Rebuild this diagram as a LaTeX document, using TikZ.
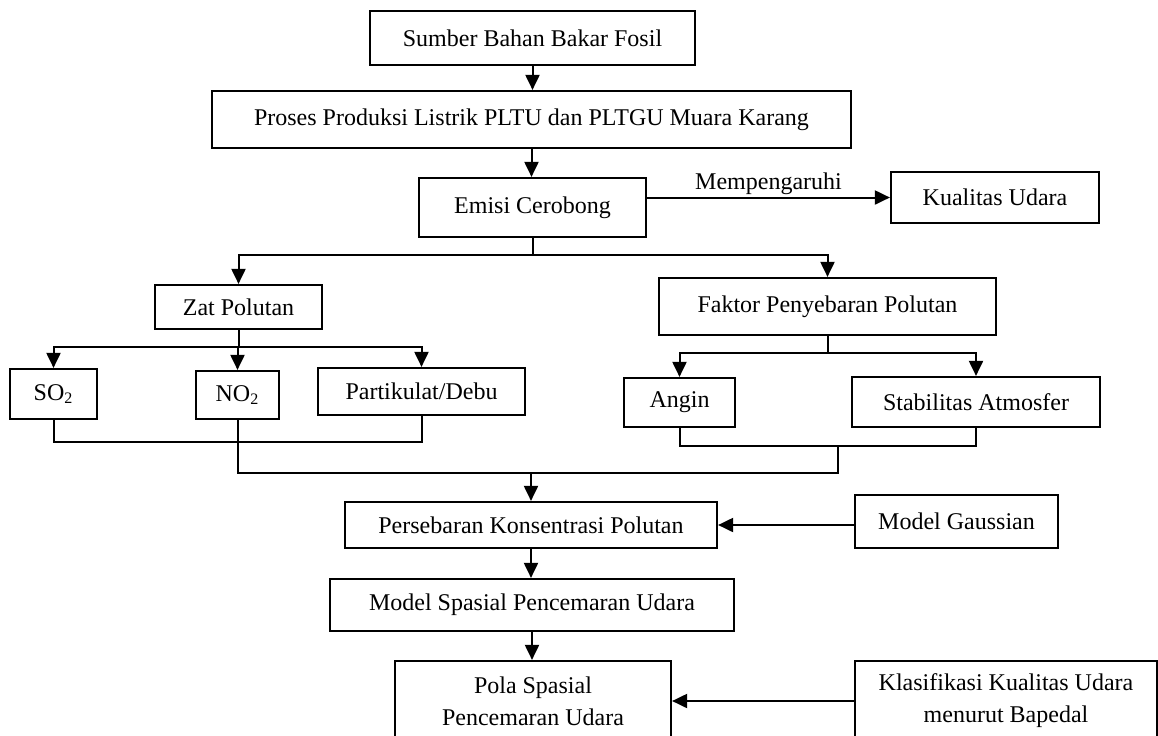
\documentclass[tikz,border=0pt]{standalone}
\usepackage{fontspec}
\setmainfont{Liberation Serif}
\usetikzlibrary{arrows.meta}

\begin{document}
\begin{tikzpicture}[x=0.5pt,y=-0.5pt,
  box/.style={draw, line width=1.1pt, inner sep=0pt, align=center, font=\fontsize{12}{16}\selectfont},
  link/.style={line width=1pt},
  arr/.style={link, -{Triangle[length=7.5pt,width=7pt]}},
  tag/.style={inner sep=1pt, font=\fontsize{12}{16}\selectfont}]
%%Frame
\clip (0,0) rectangle (1158,735);
\fill[white] (0,0) rectangle (1158,735);
%%Boxes
\node[box, minimum width=162.5pt, minimum height=27pt] (sumber) at (532.5,38) {Sumber Bahan Bakar Fosil};
\node[box, minimum width=319.5pt, minimum height=28.5pt] (proses) at (531.5,119.5) {Proses Produksi Listrik PLTU dan PLTGU Muara Karang};
\node[box, minimum width=113.5pt, minimum height=29.5pt] (emisi) at (532.5,207.5) {Emisi Cerobong};
\node[box, minimum width=104pt, minimum height=25.5pt] (kualitas) at (995,197.5) {Kualitas Udara};
\node[box, minimum width=83.5pt, minimum height=22pt] (zat) at (238.5,307) {Zat Polutan};
\node[box, minimum width=168.5pt, minimum height=28.5pt] (faktor) at (827.5,306.5) {Faktor Penyebaran Polutan};
\node[box, minimum width=43.5pt, minimum height=25pt] (so2) at (53.5,394) {SO\textsubscript{2}};
\node[box, minimum width=41.5pt, minimum height=24pt] (no2) at (237.5,395) {NO\textsubscript{2}};
\node[box, minimum width=103.5pt, minimum height=23.5pt] (partikulat) at (421.5,391.5) {Partikulat/Debu};
\node[box, minimum width=55.5pt, minimum height=24.5pt] (angin) at (679.5,402.5) {Angin};
\node[box, minimum width=124pt, minimum height=25pt] (stabilitas) at (976,402) {Stabilitas Atmosfer};
\node[box, minimum width=186pt, minimum height=23pt] (persebaran) at (531,525) {Persebaran Konsentrasi Polutan};
\node[box, minimum width=101.5pt, minimum height=26.5pt] (gaussian) at (956.5,521.5) {Model Gaussian};
\node[box, minimum width=202pt, minimum height=26pt] (spasial) at (532,605) {Model Spasial Pencemaran Udara};
\node[box, minimum width=138pt, minimum height=40pt] (pola) at (533,701) {Pola Spasial\\Pencemaran Udara};
\node[box, minimum width=151pt, minimum height=40pt] (klasifikasi) at (1006,701) {Klasifikasi Kualitas Udara\\menurut Bapedal};
%%Main flow
\draw[arr] (sumber.south) -- (sumber.south |- proses.north);
\draw[arr] (proses.south) -- (proses.south |- emisi.north);
\draw[arr] (emisi.east |- kualitas.west) -- (kualitas.west) node[tag, midway, above] (pengaruh) {Mempengaruhi};
%%Branches
\draw[link] (emisi.south) -- ++(0,17) coordinate (emisiSplit);
\draw[arr] (emisiSplit) -| (zat);
\draw[arr] (emisiSplit) -| (faktor);
\draw[link] (zat.south) -- ++(0,17) coordinate (zatSplit);
\draw[arr] (zatSplit) -| (so2);
\draw[arr] (zatSplit) -| (no2);
\draw[arr] (zatSplit) -| (partikulat);
\draw[link] (faktor.south) -- ++(0,17) coordinate (faktorSplit);
\draw[arr] (faktorSplit) -| (angin);
\draw[arr] (faktorSplit) -| (stabilitas);
%%Joins
\coordinate (metJoin) at (838,446);
\draw[link] (so2.south) -- ++(0,22) -| (partikulat.south);
\draw[link] (angin.south) |- (metJoin) -| (stabilitas.south);
\draw[link] (no2.south) -- ++(0,53) coordinate (gasDrop) -| (metJoin);
\draw[arr] (persebaran.north |- gasDrop) -- (persebaran.north);
%%Lower flow
\draw[arr] (persebaran.south) -- (persebaran.south |- spasial.north);
\draw[arr] (spasial.south) -- (spasial.south |- pola.north);
\draw[arr] (gaussian.west |- persebaran.east) -- (persebaran.east);
\draw[arr] (klasifikasi.west |- pola.east) -- (pola.east);
\end{tikzpicture}
\end{document}
